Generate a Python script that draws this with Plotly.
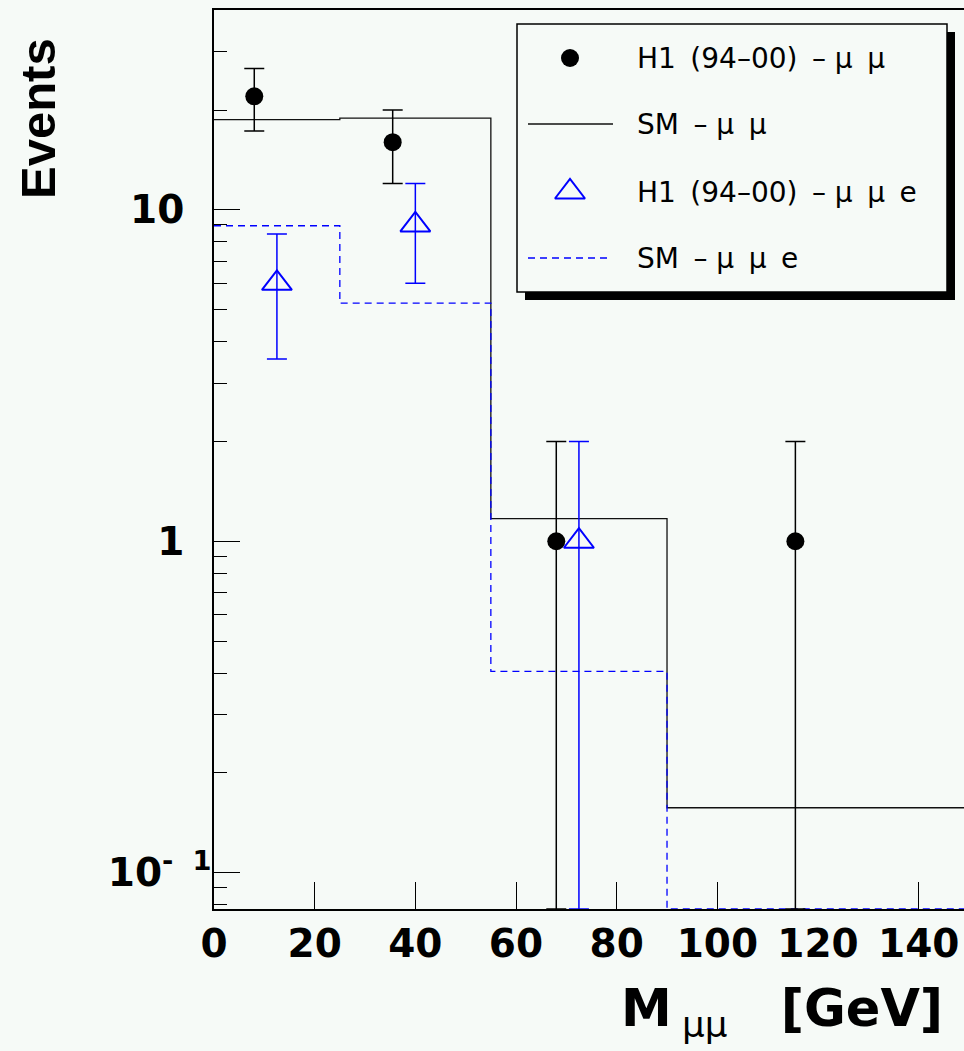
import math
import plotly.graph_objects as go

# ---------------- data ----------------
bin_edges = [0, 25, 55, 90, 150]
sm_mumu = [18.7, 18.9, 1.17, 0.157]
sm_mumue = [8.95, 5.23, 0.405, 0.0]

h1_mumu_x = [8.0, 35.5, 68.0, 115.5]
h1_mumu_y = [22, 16, 1, 1]
h1_mumu_err = [4.7, 4.0, 1.0, 1.0]

h1_mumue_x = [12.5, 40.0, 72.5]
h1_mumue_y = [6, 9, 1]
h1_mumue_err = [2.45, 3.0, 1.0]

x_tick_vals = [0, 20, 40, 60, 80, 100, 120, 140]
x_tick_marks = [20, 40, 60, 80, 100, 140]
y_tick_vals = [0.1, 1, 10]
y_tick_text = ["10<sup>-\u00a0\u00a01</sup>", "1\u00a0\u00a0", "10\u00a0\u00a0"]

SP = "\u00a0\u2009"
legend_labels = ["H1" + SP + "(94\u201300)" + SP + "\u2013\u00a0\u03bc" + SP + "\u03bc",
                 "SM" + SP + "\u2013\u00a0\u03bc" + SP + "\u03bc",
                 "H1" + SP + "(94\u201300)" + SP + "\u2013\u00a0\u03bc" + SP + "\u03bc" + SP + "e",
                 "SM" + SP + "\u2013\u00a0\u03bc" + SP + "\u03bc" + SP + "e"]

# ---------------- layout constants ----------------
W, H = 964, 1051
ML, MR, MT, MB = 214, 0, 10, 142
X_RANGE = [0, 149]
Y_LOG_RANGE = [-1.1095, 1.6028]
Y_MIN = 10 ** Y_LOG_RANGE[0]
BG = "#f6faf7"
BLUE = "#0000ff"

PW = W - ML - MR
PH = H - MT - MB


def px(xp):
    return (xp - ML) / PW


def py(yp):
    return (H - MB - yp) / PH


def step_y(vals):
    v = [max(a, Y_MIN) for a in vals]
    return v + [v[-1]]


def lower_err(vals, errs):
    return [y - max(y - e, Y_MIN) for y, e in zip(vals, errs)]


fig = go.Figure()

# SM histograms
fig.add_trace(go.Scatter(
    x=bin_edges, y=step_y(sm_mumu), mode="lines", line_shape="hv",
    line=dict(color="#111111", width=1.3), showlegend=False))
fig.add_trace(go.Scatter(
    x=bin_edges, y=step_y(sm_mumue), mode="lines", line_shape="hv",
    line=dict(color=BLUE, width=1.3, dash="7px,5px"), showlegend=False,
    cliponaxis=False))

# H1 data points
fig.add_trace(go.Scatter(
    x=h1_mumu_x, y=h1_mumu_y, mode="markers",
    marker=dict(symbol="circle", size=18, color="black"),
    error_y=dict(type="data", array=h1_mumu_err,
                 arrayminus=lower_err(h1_mumu_y, h1_mumu_err),
                 color="black", thickness=1.5, width=10),
    cliponaxis=False, showlegend=False))
fig.add_trace(go.Scatter(
    x=h1_mumue_x, y=h1_mumue_y, mode="markers",
    marker=dict(symbol="triangle-up-open", size=26, color=BLUE,
                line=dict(color=BLUE, width=2)),
    error_y=dict(type="data", array=h1_mumue_err,
                 arrayminus=lower_err(h1_mumue_y, h1_mumue_err),
                 color=BLUE, thickness=1.5, width=10),
    cliponaxis=False, showlegend=False))

# ---------------- hand drawn legend ----------------
LEG_L, LEG_T, LEG_R, LEG_B = 517, 24, 947, 292
SH = 8
row_y = [58, 124, 192, 258]
sym_x = 570
txt_x = 635

shapes = [
    dict(type="rect", xref="paper", yref="paper", layer="below",
         x0=px(LEG_L + SH), x1=px(LEG_R + SH), y0=py(LEG_B + SH), y1=py(LEG_T + SH),
         fillcolor="black", line=dict(width=0)),
    dict(type="rect", xref="paper", yref="paper", layer="below",
         x0=px(LEG_L), x1=px(LEG_R), y0=py(LEG_B), y1=py(LEG_T),
         fillcolor=BG, line=dict(color="black", width=1.5)),
    dict(type="line", xref="paper", yref="paper",
         x0=px(528), x1=px(613), y0=py(row_y[1]), y1=py(row_y[1]),
         line=dict(color="#111111", width=1.3)),
    dict(type="line", xref="paper", yref="paper",
         x0=px(528), x1=px(609), y0=py(row_y[3]), y1=py(row_y[3]),
         line=dict(color=BLUE, width=1.3, dash="7px,5px")),
]

fig.add_trace(go.Scatter(
    x=[sym_x], y=[row_y[0]], xaxis="x2", yaxis="y2", mode="markers",
    marker=dict(symbol="circle", size=18, color="black"), showlegend=False))
fig.add_trace(go.Scatter(
    x=[sym_x], y=[row_y[2]], xaxis="x2", yaxis="y2", mode="markers",
    marker=dict(symbol="triangle-up-open", size=26, color=BLUE,
                line=dict(color=BLUE, width=2)), showlegend=False))

annotations = []
for lbl, ry in zip(legend_labels, row_y):
    annotations.append(dict(
        text=lbl, xref="paper", yref="paper", x=px(txt_x), y=py(ry),
        xanchor="left", yanchor="middle", showarrow=False,
        font=dict(family="DejaVu Sans", size=28, color="black")))

# axis titles
annotations.append(dict(
    text="M\u2009<sub><span style='font-weight:normal'>\u03bc\u03bc</span></sub>\u00a0\u00a0\u00a0[GeV]",
    xref="paper", yref="paper",
    x=px(945), y=py(1012), xanchor="right", yanchor="middle", showarrow=False,
    font=dict(family="DejaVu Sans", size=51, color="black", weight="bold")))
annotations.append(dict(
    text="Events", xref="paper", yref="paper", textangle=-90,
    x=px(38), y=py(119), xanchor="center", yanchor="middle", showarrow=False,
    font=dict(family="Liberation Sans, Arial", size=49,
              color="black", weight="bold")))

minor_y = []
for dec in [0.01, 0.1, 1, 10]:
    for k in range(2, 10):
        v = k * dec
        if Y_MIN <= v <= 10 ** Y_LOG_RANGE[1]:
            minor_y.append(v)

tick_font = dict(family="DejaVu Sans", size=39, color="black", weight="bold")

fig.update_layout(
    width=W, height=H, autosize=False,
    margin=dict(l=ML, r=MR, t=MT, b=MB, pad=0),
    paper_bgcolor=BG, plot_bgcolor=BG,
    showlegend=False,
    shapes=shapes, annotations=annotations,
    xaxis=dict(range=X_RANGE, showgrid=False, zeroline=False,
               showline=True, linecolor="black", linewidth=1.5, mirror=True,
               tickmode="array", tickvals=x_tick_vals, ticks="",
               ticklabelstandoff=-1, tickfont=tick_font,
               minor=dict(tickmode="array", tickvals=x_tick_marks, ticks="inside",
                          ticklen=27, tickcolor="black", tickwidth=1.3)),
    yaxis=dict(type="log", range=Y_LOG_RANGE, showgrid=False, zeroline=False,
               showline=True, linecolor="black", linewidth=1.5,
               tickmode="array", tickvals=y_tick_vals, ticktext=y_tick_text,
               ticks="inside", ticklen=26, tickcolor="black", tickwidth=1.3,
               ticklabelstandoff=-7, tickfont=tick_font,
               minor=dict(tickmode="array", tickvals=minor_y, ticks="inside",
                          ticklen=13, tickcolor="black", tickwidth=1.3)),
    xaxis2=dict(overlaying="x", range=[ML, W - MR], visible=False, fixedrange=True),
    yaxis2=dict(overlaying="y", range=[H - MB, MT], visible=False, fixedrange=True),
)

fig.write_html("out.html", config={"displayModeBar": False},
               post_script="document.body.style.margin='0';")
